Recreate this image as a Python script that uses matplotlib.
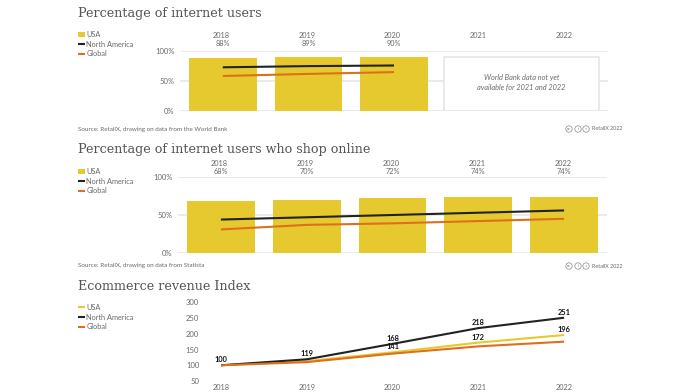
import matplotlib
matplotlib.use('Agg')
import matplotlib.pyplot as plt
from matplotlib.patches import Circle, Rectangle
from matplotlib.transforms import IdentityTransform

# Data
years = ['2018', '2019', '2020', '2021', '2022']

users_usa = [88, 89, 90]
users_na = [72, 74, 75]
users_global = [57.5, 61, 64]

shop_usa = [68, 70, 72, 74, 74]
shop_na = [44, 47, 50, 53, 56]
shop_global = [31, 37, 39, 42, 45]

rev_usa = [100, 113, 141, 172, 196]
rev_na = [100, 119, 168, 218, 251]
rev_global = [100, 110, 137, 160, 175]

GOLD = '#E6C92E'
BLACK = '#222222'
ORANGE = '#DF6F1C'
GRID = '#E4E4E4'
TEXT = '#6A6A6A'
TITLE = '#555555'
W, H = 700, 392
SANS = 'Lato'

fig = plt.figure(figsize=(W / 100, H / 100), dpi=100, facecolor='white')


def add_axes_px(left, top, right, bottom):
    ax = fig.add_axes([left / W, 1 - bottom / H, (right - left) / W, (bottom - top) / H])
    ax.patch.set_alpha(0)
    for s in ax.spines.values():
        s.set_visible(False)
    return ax


def px_text(x, y, s, **kw):
    fig.text(x / W, 1 - y / H, s, **kw)


def add_title(y, s):
    px_text(78, y, s, family='DejaVu Serif', fontsize=9.2, color=TITLE, va='center')


def add_legend(ax, handles, top):
    ax.legend(handles, ['USA', 'North America', 'Global'], loc='upper left',
              bbox_to_anchor=(78 / W, 1 - top / H), bbox_transform=fig.transFigure,
              frameon=False, borderpad=0, borderaxespad=0,
              labelspacing=0.36, handlelength=0.95, handleheight=0.85, handletextpad=0.2,
              labelcolor=TEXT, prop={'family': SANS, 'size': 5.3})


def add_footer(y, source):
    px_text(78, y, source, family=SANS, fontsize=4.5, color=TEXT, va='center')
    for x, sym in zip([569, 578, 586], ['cc', 'i', '=']):
        fig.add_artist(Circle((x, H - y), 3.2, transform=IdentityTransform(),
                              facecolor='white', edgecolor='#888888', lw=0.5))
        px_text(x, y, sym, family=SANS, fontsize=3, color='#666666', ha='center', va='center')
    px_text(592, y, 'RetailX 2022', family=SANS, fontsize=3.9, color=TEXT, va='center')


def bar_panel(ax, usa, na, glob, year_pt, value_pt):
    xs = range(len(usa))
    bars = ax.bar(xs, usa, width=0.79, color=GOLD, zorder=2)
    l1, = ax.plot(range(len(na)), na, color=BLACK, lw=1.5, zorder=3, solid_capstyle='butt')
    l2, = ax.plot(range(len(glob)), glob, color=ORANGE, lw=1.5, zorder=3, solid_capstyle='butt')
    ax.set_xlim(-0.5, 4.5)
    ax.set_ylim(0, 100)
    ax.set_xticks([])
    ax.set_yticks([0, 50, 100])
    ax.set_yticklabels(['0%', '50%', '100%'], family=SANS, fontsize=5.5, color=TEXT)
    ax.tick_params(axis='y', length=0, pad=4)
    ax.grid(axis='y', color=GRID, lw=1.1, zorder=0)
    ax.set_axisbelow(True)
    for i, year in enumerate(years):
        ax.annotate(year, (i, 100), xytext=(-1, year_pt), textcoords='offset points',
                    ha='center', va='center', family=SANS, fontsize=5.3, color=TEXT)
        if i < len(usa):
            ax.annotate(f'{usa[i]}%', (i, 100), xytext=(0, value_pt), textcoords='offset points',
                        ha='center', va='center', family=SANS, fontsize=5.3, color=TEXT)
    return bars[0], l1, l2


# Percentage of internet users
ax1 = add_axes_px(180, 50.5, 608, 110.5)
h1 = bar_panel(ax1, users_usa, users_na, users_global, 11, 5.2)
ax1.add_patch(Rectangle((2.584, 0), 1.811, 89, facecolor='white', edgecolor=GRID, lw=1.1, zorder=2))
ax1.text(3.49, 47, 'World Bank data not yet\navailable for 2021 and 2022', ha='center', va='center',
         family=SANS, style='italic', fontsize=5.3, color=TEXT, linespacing=1.35, zorder=4)
add_legend(ax1, h1, 31)
add_title(13, 'Percentage of internet users')
add_footer(129, 'Source: RetailX, drawing on data from the World Bank')

# Percentage of internet users who shop online
ax2 = add_axes_px(178, 177, 607, 253)
h2 = bar_panel(ax2, shop_usa, shop_na, shop_global, 9.5, 3.7)
add_legend(ax2, h2, 168)
add_title(149.5, 'Percentage of internet users who shop online')
add_footer(266, 'Source: RetailX, drawing on data from Statista')

# Ecommerce revenue Index
ax3 = add_axes_px(178.3, 302.3, 607, 381)
l_usa, = ax3.plot(years, rev_usa, color=GOLD, lw=1.5, solid_capstyle='butt')
l_na, = ax3.plot(years, rev_na, color=BLACK, lw=1.5, solid_capstyle='butt')
l_gl, = ax3.plot(years, rev_global, color=ORANGE, lw=1.5, solid_capstyle='butt')
ax3.set_xlim(-0.5, 4.5)
ax3.set_ylim(50, 300)
ax3.set_yticks([50, 100, 150, 200, 250, 300])
ax3.tick_params(axis='y', length=0, pad=-15, labelsize=5.5, labelcolor=TEXT)
ax3.tick_params(axis='x', length=0, pad=2.5, labelsize=5.3, labelcolor=TEXT)
for lab in ax3.get_xticklabels() + ax3.get_yticklabels():
    lab.set_family(SANS)
for i in range(len(years)):
    ax3.annotate(str(rev_na[i]), (i, rev_na[i]), xytext=(0, 4), textcoords='offset points',
                 ha='center', va='center', family=SANS, fontsize=5.3, fontweight='bold', color='#111111')
    if i >= 2:
        ax3.annotate(str(rev_usa[i]), (i, rev_usa[i]), xytext=(0, 4), textcoords='offset points',
                     ha='center', va='center', family=SANS, fontsize=5.3, fontweight='bold', color='#111111')
add_legend(ax3, (l_usa, l_na, l_gl), 304)
add_title(286, 'Ecommerce revenue Index')

fig.savefig('out.png', dpi=100, facecolor='white')
